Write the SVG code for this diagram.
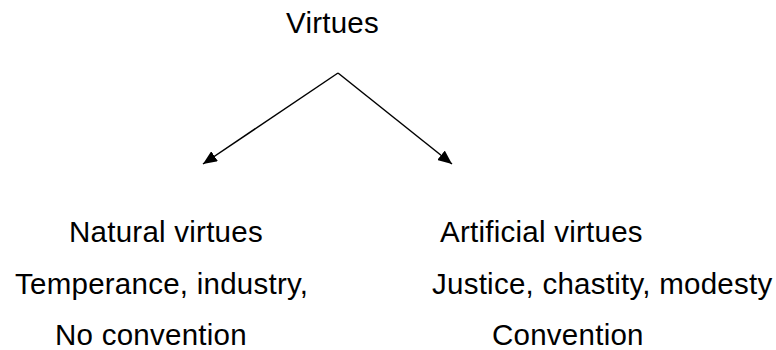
<svg xmlns="http://www.w3.org/2000/svg" width="776" height="350" viewBox="0 0 776 350">
  <style>
    text { font-family: "Liberation Sans", Arial, sans-serif; font-size: 29.5px; letter-spacing: 0.25px; fill: #000; }
    .edge { stroke: #000; stroke-width: 1.5; fill: none; }
  </style>
  <defs>
    <marker id="arrow" viewBox="0 0 14 12" refX="14" refY="6" markerWidth="14" markerHeight="12" markerUnits="userSpaceOnUse" orient="auto">
      <path d="M0,0 L14,6 L0,12 z" fill="#000"/>
    </marker>
  </defs>
  <rect width="776" height="350" fill="#fff"/>

  <g id="connectors">
    <line class="edge" x1="338" y1="73" x2="203" y2="164" marker-end="url(#arrow)"/>
    <line class="edge" x1="338" y1="73" x2="452" y2="164" marker-end="url(#arrow)"/>
  </g>

  <g id="virtues">
    <text x="286" y="33">Virtues</text>
  </g>

  <g id="natural-virtues">
    <text x="69" y="242">Natural virtues</text>
    <text x="15" y="294">Temperance, industry,</text>
    <text x="55" y="345">No convention</text>
  </g>

  <g id="artificial-virtues">
    <text x="440" y="242">Artificial virtues</text>
    <text x="432" y="294">Justice, chastity, modesty</text>
    <text x="492" y="345">Convention</text>
  </g>
</svg>
